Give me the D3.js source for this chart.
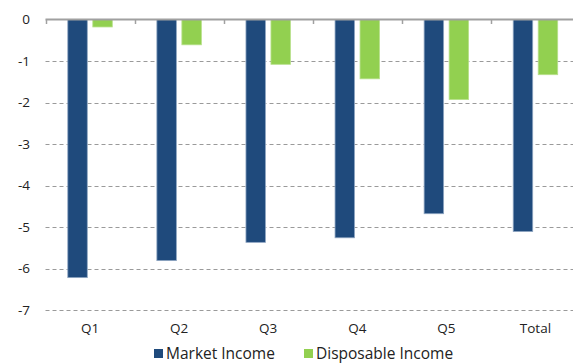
<!DOCTYPE html>
<html>
<head>
<meta charset="utf-8">
<script src="https://cdn.jsdelivr.net/npm/d3@7"></script>
<style>
  body { margin: 0; background: #fff; }
  text { font-family: "Open Sans", "Noto Sans", sans-serif; fill: #222; }
</style>
</head>
<body>
<div class="chart"></div>
<script>
// data
var categories = ["Q1", "Q2", "Q3", "Q4", "Q5", "Total"];
var marketIncome = [-6.22, -5.81, -5.37, -5.26, -4.68, -5.11];
var disposableIncome = [-0.18, -0.61, -1.08, -1.43, -1.93, -1.33];
var seriesNames = ["Market Income", "Disposable Income"];
var yTicks = [0, -1, -2, -3, -4, -5, -6, -7];

var colors = ["#1F4A7C", "#92D050"];
var strokes = ["#8FA6C2", "#B8E08C"];

var width = 573, height = 363;
var margin = { top: 19.5, left: 45.5, bottom: 56, right: -7 };

var svg = d3.select(".chart")
            .append("svg")
            .attr("width", width)
            .attr("height", height);

var x = d3.scaleBand()
          .domain(categories)
          .range([margin.left, width - margin.right]);

var y = d3.scaleLinear()
          .domain([0, -7])
          .range([margin.top, margin.top + 7 * 41.5]);

var barW = 19.5, gap = 5.5;

// gridlines
svg.append("g")
   .selectAll("line")
   .data(yTicks.filter(d => d !== 0))
   .enter()
   .append("line")
   .attr("x1", margin.left)
   .attr("x2", width)
   .attr("y1", d => Math.round(y(d)) + 0.5)
   .attr("y2", d => Math.round(y(d)) + 0.5)
   .attr("stroke", "#9a9a9a")
   .attr("stroke-width", 1)
   .attr("stroke-dasharray", "4,3");

// y labels
svg.append("g")
   .selectAll("text")
   .data(yTicks)
   .enter()
   .append("text")
   .attr("x", 30)
   .attr("y", d => y(d))
   .attr("dy", "0.35em")
   .attr("text-anchor", "end")
   .style("font-size", "13.5px")
   .text(d => d);

// bars
var series = [marketIncome, disposableIncome];
series.forEach(function(vals, s) {
  svg.append("g")
     .selectAll("rect")
     .data(vals)
     .enter()
     .append("rect")
     .attr("x", (d, i) => x(categories[i]) + x.bandwidth() / 2 + (s === 0 ? -gap / 2 - barW : gap / 2))
     .attr("y", y(0))
     .attr("width", barW)
     .attr("height", d => y(d) - y(0))
     .attr("fill", colors[s])
     .attr("stroke", strokes[s])
     .attr("stroke-width", 0.8);
});

// zero axis with ticks
svg.append("line")
   .attr("x1", margin.left)
   .attr("x2", width)
   .attr("y1", y(0))
   .attr("y2", y(0))
   .attr("stroke", "#a0a0a0")
   .attr("stroke-width", 2);

var bounds = categories.map(c => x(c)).concat([x.range()[1]]);
svg.append("g")
   .selectAll("line")
   .data(bounds)
   .enter()
   .append("line")
   .attr("x1", d => Math.round(d) + 0.5)
   .attr("x2", d => Math.round(d) + 0.5)
   .attr("y1", y(0))
   .attr("y2", y(0) + 4.5)
   .attr("stroke", "#a0a0a0")
   .attr("stroke-width", 1.5);

// category labels
svg.append("g")
   .selectAll("text")
   .data(categories)
   .enter()
   .append("text")
   .attr("x", d => x(d) + x.bandwidth() / 2)
   .attr("y", 333)
   .attr("text-anchor", "middle")
   .style("font-size", "13.5px")
   .text(d => d);

// legend
var legendX = [154, 304];
var legend = svg.append("g");
seriesNames.forEach(function(name, i) {
  legend.append("rect")
        .attr("x", legendX[i])
        .attr("y", 349)
        .attr("width", 9)
        .attr("height", 9)
        .attr("fill", colors[i]);
  legend.append("text")
        .attr("x", legendX[i] + 12)
        .attr("y", 359)
        .style("font-size", "15.5px")
        .text(name);
});
</script>
</body>
</html>
